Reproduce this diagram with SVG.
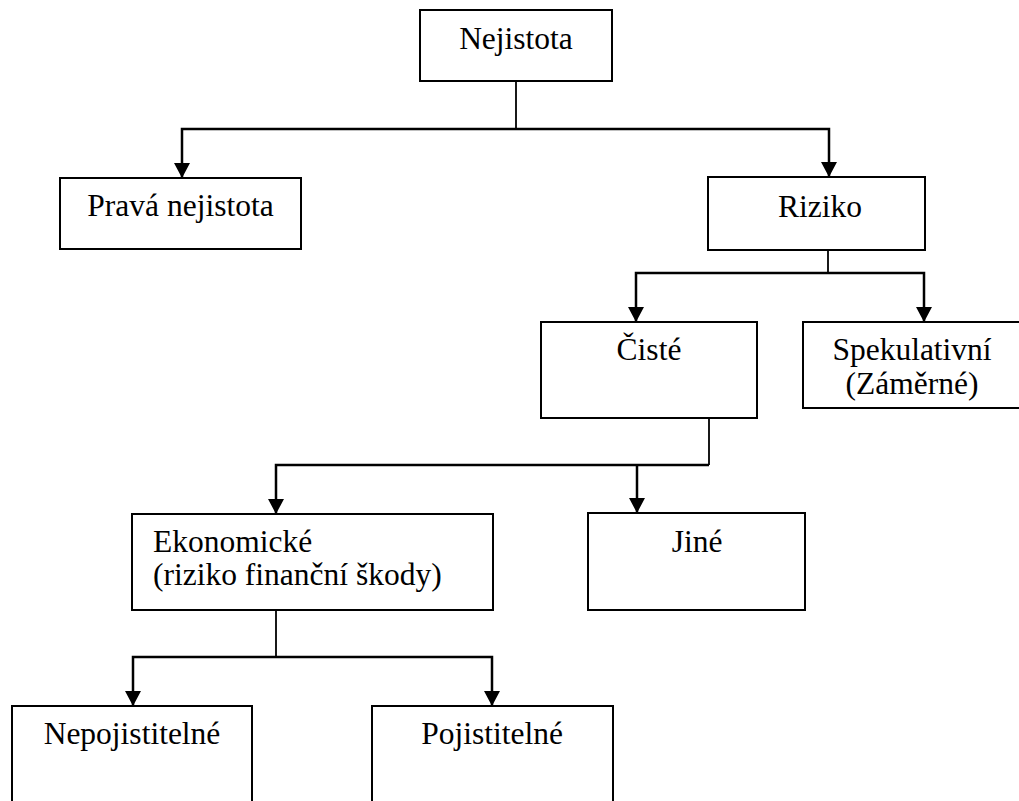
<svg xmlns="http://www.w3.org/2000/svg" width="1019" height="801" viewBox="0 0 1019 801">
<style>
.box{fill:#fff;stroke:#000;stroke-width:2}
.t{font-size:31.5px;fill:#000}
.c{text-anchor:middle}
.ln{fill:none;stroke:#000;stroke-width:2.5}
.st{fill:none;stroke:#000;stroke-width:1.8}
</style>
<defs>
<marker id="ah" viewBox="0 0 16 17" refX="16" refY="8.5" markerWidth="17" markerHeight="16" markerUnits="userSpaceOnUse" orient="auto">
<path d="M0,0 L16,8.5 L0,17 z" fill="#000"/>
</marker>
</defs>
<rect width="1019" height="801" fill="#fff"/>
<g id="connectors">
<path class="st" d="M516,81 V129"/>
<path class="ln" d="M516,129 H182 V178" marker-end="url(#ah)"/>
<path class="ln" d="M516,129 H829 V177" marker-end="url(#ah)"/>
<path class="st" d="M828,250 V273"/>
<path class="ln" d="M828,273 H636 V322" marker-end="url(#ah)"/>
<path class="ln" d="M828,273 H924 V322" marker-end="url(#ah)"/>
<path class="st" d="M709,418 V465"/>
<path class="ln" d="M709,465 H276 V514" marker-end="url(#ah)"/>
<path class="ln" d="M637,465 V513" marker-end="url(#ah)"/>
<path class="st" d="M276,610 V657"/>
<path class="ln" d="M276,657 H133 V706" marker-end="url(#ah)"/>
<path class="ln" d="M276,657 H492 V706" marker-end="url(#ah)"/>
</g>
<g font-family="Liberation Serif, Times New Roman, DejaVu Serif, serif">
<g id="n-nejistota">
<rect class="box" x="420" y="10" width="192" height="71"/>
<text class="t c" x="516" y="49">Nejistota</text>
</g>
<g id="n-prava">
<rect class="box" x="60" y="178" width="241" height="71"/>
<text class="t c" x="180.5" y="216">Pravá nejistota</text>
</g>
<g id="n-riziko">
<rect class="box" x="708" y="177" width="217" height="73"/>
<text class="t c" x="820" y="217">Riziko</text>
</g>
<g id="n-ciste">
<rect class="box" x="541" y="322" width="216" height="96"/>
<text class="t c" x="649" y="360">Čisté</text>
</g>
<g id="n-spekulativni">
<rect class="box" x="803" y="322" width="218" height="86"/>
<text class="t c" x="912" y="360">Spekulativní</text>
<text class="t c" x="912" y="394">(Záměrné)</text>
</g>
<g id="n-ekonomicke">
<rect class="box" x="132" y="514" width="361" height="96"/>
<text class="t" x="153" y="552">Ekonomické</text>
<text class="t" x="153" y="585">(riziko finanční škody)</text>
</g>
<g id="n-jine">
<rect class="box" x="588" y="513" width="217" height="97"/>
<text class="t c" x="697" y="552">Jiné</text>
</g>
<g id="n-nepojistitelne">
<rect class="box" x="12" y="706" width="240" height="110"/>
<text class="t c" x="132" y="744">Nepojistitelné</text>
</g>
<g id="n-pojistitelne">
<rect class="box" x="372" y="706" width="241" height="110"/>
<text class="t c" x="492" y="744">Pojistitelné</text>
</g>
</g>
</svg>
